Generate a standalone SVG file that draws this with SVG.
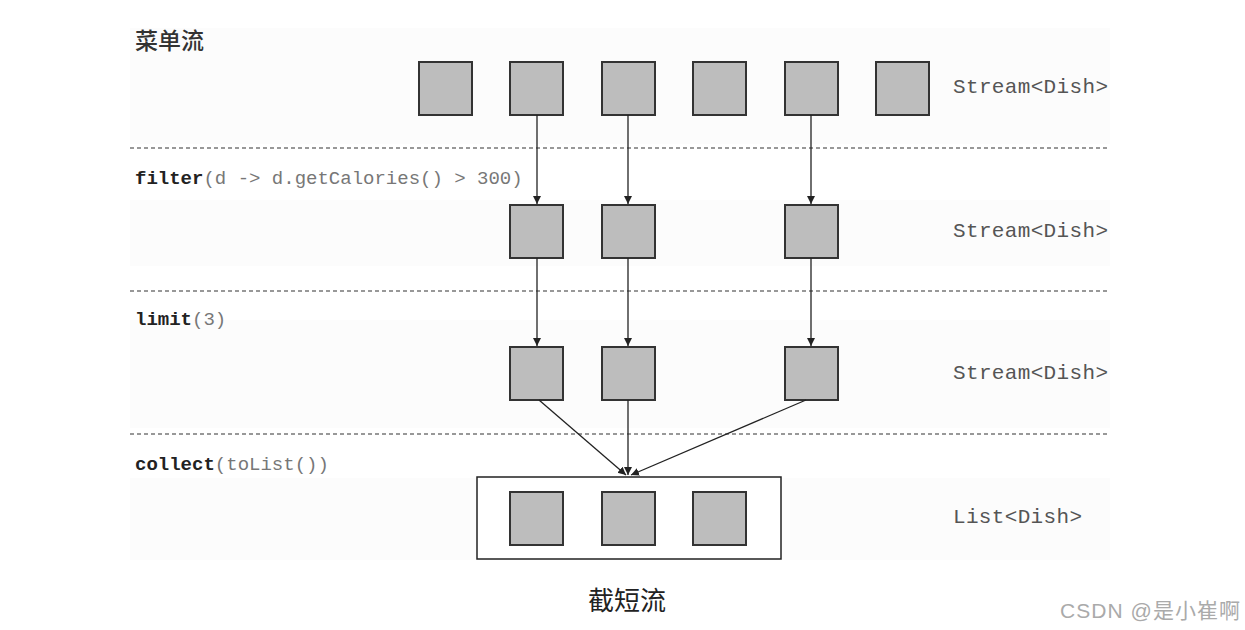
<svg xmlns="http://www.w3.org/2000/svg" width="1245" height="630" viewBox="0 0 1245 630">
<style>
.sq{fill:#bdbdbd;stroke:#333;stroke-width:2}
.dash{stroke:#777;stroke-width:1.6;stroke-dasharray:4,3;fill:none}
.code{font-family:"Liberation Mono",monospace;font-size:19px;fill:#777}
.code .b{font-weight:bold;fill:#222}
.out{font-family:"Liberation Mono",monospace;font-size:21px;fill:#555}
.conn{stroke:#222;stroke-width:1.3;fill:none;marker-end:url(#ah)}
.band{fill:#fcfcfc}
</style>
<defs>
<marker id="ah" markerWidth="10" markerHeight="10" refX="8" refY="4" orient="auto" markerUnits="userSpaceOnUse">
<path d="M0,0 L8,4 L0,8 Z" fill="#222"/>
</marker>
</defs>
<rect width="1245" height="630" fill="#fff"/>
<rect class="band" x="130" y="28" width="980" height="116"/>
<rect class="band" x="130" y="200" width="980" height="66"/>
<rect class="band" x="130" y="320" width="980" height="108"/>
<rect class="band" x="130" y="478" width="980" height="82"/>
<g id="dividers">
<line class="dash" x1="130" y1="148" x2="1110" y2="148"/>
<line class="dash" x1="130" y1="291" x2="1110" y2="291"/>
<line class="dash" x1="130" y1="434" x2="1110" y2="434"/>
</g>
<g id="labels">
<text x="135" y="49" font-family="'Noto Sans CJK SC',sans-serif" font-size="23" font-weight="500" fill="#333">菜单流</text>
<text class="code" x="135" y="184"><tspan class="b">filter</tspan>(d -&gt; d.getCalories() &gt; 300)</text>
<text class="code" x="135" y="325"><tspan class="b">limit</tspan>(3)</text>
<text class="code" x="135" y="470"><tspan class="b">collect</tspan>(toList())</text>
<text class="out" x="953" y="93" textLength="155">Stream&lt;Dish&gt;</text>
<text class="out" x="953" y="237" textLength="155">Stream&lt;Dish&gt;</text>
<text class="out" x="953" y="379" textLength="155">Stream&lt;Dish&gt;</text>
<text class="out" x="953" y="523" textLength="129">List&lt;Dish&gt;</text>
<text x="588" y="610" font-family="'Liberation Serif','Noto Sans CJK SC',serif" font-size="26" fill="#222">截短流</text>
<text x="1060" y="618" font-family="'Liberation Sans','Noto Sans CJK SC',sans-serif" font-size="21" fill="#aaa" textLength="180">CSDN @是小崔啊</text>
</g>
<g id="menu-stream">
<rect class="sq" x="419" y="62" width="53" height="53"/>
<rect class="sq" x="510" y="62" width="53" height="53"/>
<rect class="sq" x="602" y="62" width="53" height="53"/>
<rect class="sq" x="693" y="62" width="53" height="53"/>
<rect class="sq" x="785" y="62" width="53" height="53"/>
<rect class="sq" x="876" y="62" width="53" height="53"/>
</g>
<g id="filter-stream">
<rect class="sq" x="510" y="205" width="53" height="53"/>
<rect class="sq" x="602" y="205" width="53" height="53"/>
<rect class="sq" x="785" y="205" width="53" height="53"/>
</g>
<g id="limit-stream">
<rect class="sq" x="510" y="347" width="53" height="53"/>
<rect class="sq" x="602" y="347" width="53" height="53"/>
<rect class="sq" x="785" y="347" width="53" height="53"/>
</g>
<g id="result-list">
<rect x="477" y="477" width="304" height="82" fill="#fff" stroke="#222" stroke-width="1.5"/>
<rect class="sq" x="510" y="492" width="53" height="53"/>
<rect class="sq" x="602" y="492" width="53" height="53"/>
<rect class="sq" x="693" y="492" width="53" height="53"/>
</g>
<g id="connectors">
<line class="conn" x1="537" y1="115" x2="537" y2="204"/>
<line class="conn" x1="628" y1="115" x2="628" y2="204"/>
<line class="conn" x1="811" y1="115" x2="811" y2="204"/>
<line class="conn" x1="537" y1="258" x2="537" y2="346"/>
<line class="conn" x1="628" y1="258" x2="628" y2="346"/>
<line class="conn" x1="811" y1="258" x2="811" y2="346"/>
<line class="conn" x1="539" y1="400" x2="626" y2="475"/>
<line class="conn" x1="628" y1="400" x2="628" y2="475"/>
<line class="conn" x1="806" y1="400" x2="631" y2="475"/>
</g>
</svg>
